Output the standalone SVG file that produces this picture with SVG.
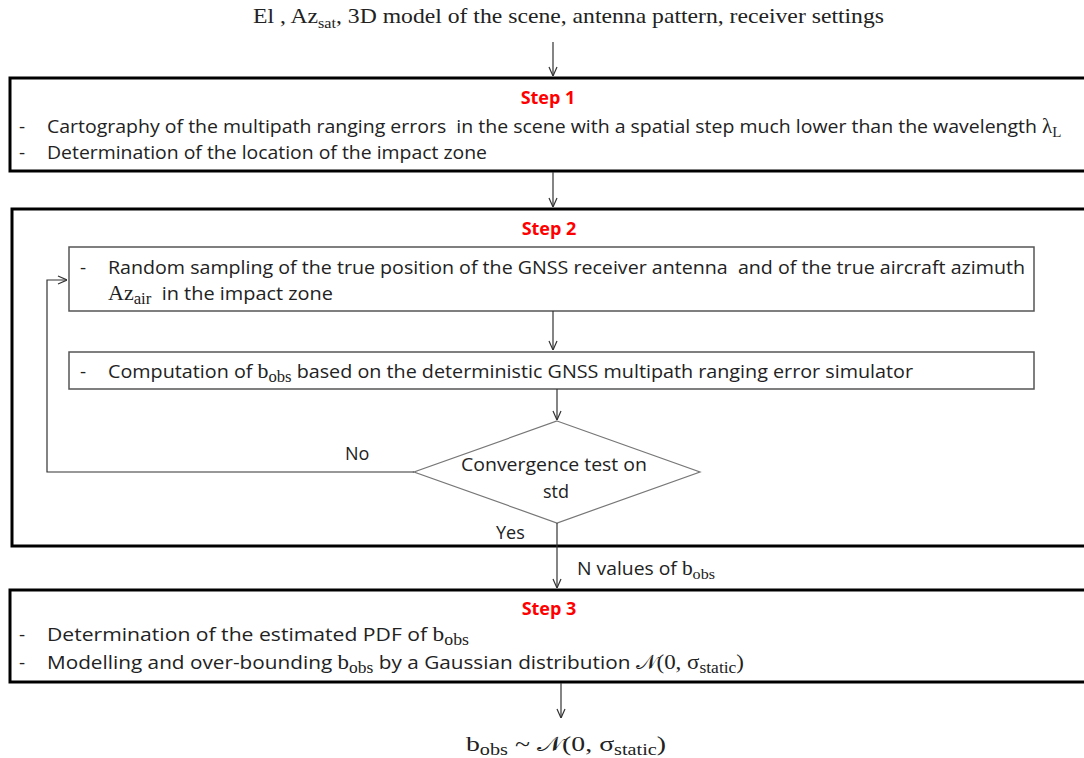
<svg xmlns="http://www.w3.org/2000/svg" width="1084" height="758" viewBox="0 0 1084 758">
<defs>
<style>
.outer{fill:#fff;stroke:#000;stroke-width:3}
.inner{fill:#fff;stroke:#555;stroke-width:1.5}
.dia{fill:#fff;stroke:#777;stroke-width:1.2}
.con{fill:none;stroke:#333;stroke-width:1.2}
.sans{font-family:"Open Sans","Liberation Sans",sans-serif;fill:#222;white-space:pre}
.serif{font-family:"Liberation Serif","DejaVu Serif",serif;fill:#222;white-space:pre}
.step{font-family:"Open Sans","Liberation Sans",sans-serif;font-weight:bold;fill:#ff0000;font-size:18px}
.math{font-family:"DejaVu Serif","Liberation Serif",serif}
.sv{font-family:"Liberation Serif","DejaVu Serif",serif}
</style>
<marker id="arr" viewBox="0 0 10 10" refX="10" refY="5" markerWidth="10" markerHeight="10" markerUnits="userSpaceOnUse" orient="auto">
<path d="M1,1 L10,5 L1,9" fill="none" stroke="#333" stroke-width="1.2"/>
</marker>
</defs>
<rect width="1084" height="758" fill="#fff"/>

<g id="input">
<text class="serif" x="253" y="23" font-size="22" textLength="631" lengthAdjust="spacingAndGlyphs">El , Az<tspan font-size="15" dy="5">sat</tspan><tspan dy="-5">, 3D model of the scene, antenna pattern, receiver settings</tspan></text>
</g>

<g id="step1">
<rect class="outer" x="10" y="78" width="1090" height="93"/>
<text class="step" x="548" y="104" text-anchor="middle">Step 1</text>
<text class="sans" x="19" y="133" font-size="19">-</text>
<text class="sans" x="47" y="133" font-size="19" textLength="990" lengthAdjust="spacingAndGlyphs">Cartography of the multipath ranging errors  in the scene with a spatial step much lower than the wavelength</text>
<text class="serif" x="1042" y="133" font-size="21">λ<tspan font-size="15" dy="4">L</tspan></text>
<text class="sans" x="19" y="159" font-size="19">-</text>
<text class="sans" x="47" y="159" font-size="19" textLength="440" lengthAdjust="spacingAndGlyphs">Determination of the location of the impact zone</text>
</g>

<g id="step2">
<rect class="outer" x="12" y="209" width="1090" height="337"/>
<text class="step" x="549" y="235" text-anchor="middle">Step 2</text>
</g>

<g id="sampling">
<rect class="inner" x="69" y="247" width="965" height="64"/>
<text class="sans" x="80" y="274" font-size="19">-</text>
<text class="sans" x="108" y="274" font-size="19" textLength="917" lengthAdjust="spacingAndGlyphs">Random sampling of the true position of the GNSS receiver antenna  and of the true aircraft azimuth</text>
<text class="sans" x="108" y="300" font-size="19" textLength="225" lengthAdjust="spacingAndGlyphs"><tspan class="sv" font-size="21">Az</tspan><tspan class="sv" font-size="16" dy="4">air</tspan><tspan dy="-4">  in the impact zone</tspan></text>
</g>

<g id="computation">
<rect class="inner" x="69" y="352" width="965" height="37"/>
<text class="sans" x="80" y="378" font-size="19">-</text>
<text class="sans" x="108" y="378" font-size="19" textLength="805" lengthAdjust="spacingAndGlyphs">Computation of <tspan class="sv" font-size="21">b</tspan><tspan class="sv" font-size="16" dy="4">obs</tspan><tspan dy="-4"> based on the deterministic GNSS multipath ranging error simulator</tspan></text>
</g>

<g id="convergence">
<polygon class="dia" points="557,421 700,472 557,523 414,472"/>
<text class="sans" x="554" y="471" font-size="18" text-anchor="middle" textLength="186" lengthAdjust="spacingAndGlyphs">Convergence test on</text>
<text class="sans" x="556" y="498" font-size="18" text-anchor="middle">std</text>
</g>

<g id="step3">
<rect class="outer" x="10" y="590" width="1090" height="92"/>
<text class="step" x="549" y="615" text-anchor="middle">Step 3</text>
<text class="sans" x="19" y="641" font-size="19">-</text>
<text class="sans" x="47" y="641" font-size="19" textLength="422" lengthAdjust="spacingAndGlyphs">Determination of the estimated PDF of <tspan class="sv" font-size="21">b</tspan><tspan class="sv" font-size="16" dy="4">obs</tspan></text>
<text class="sans" x="19" y="669" font-size="19">-</text>
<text class="sans" x="47" y="669" font-size="19" textLength="697" lengthAdjust="spacingAndGlyphs">Modelling and over-bounding <tspan class="sv" font-size="21">b</tspan><tspan class="sv" font-size="16" dy="4">obs</tspan><tspan dy="-4"> by a Gaussian distribution </tspan><tspan class="math" font-size="20">𝒩</tspan><tspan class="sv" font-size="21">(0, σ</tspan><tspan class="sv" font-size="16" dy="4">static</tspan><tspan class="sv" font-size="21" dy="-4">)</tspan></text>
</g>

<g id="output">
<text class="serif" x="466" y="751" font-size="22" textLength="200" lengthAdjust="spacingAndGlyphs">b<tspan font-size="16" dy="4">obs</tspan><tspan dy="-4"> ~ </tspan><tspan class="math" font-size="21">𝒩</tspan>(0, σ<tspan font-size="16" dy="4">static</tspan><tspan dy="-4">)</tspan></text>
</g>

<g id="connectors">
<line class="con" x1="553" y1="42" x2="553" y2="76" marker-end="url(#arr)"/>
<line class="con" x1="553" y1="172" x2="553" y2="207" marker-end="url(#arr)"/>
<line class="con" x1="553" y1="311" x2="553" y2="350" marker-end="url(#arr)"/>
<line class="con" x1="557" y1="389" x2="557" y2="420" marker-end="url(#arr)"/>
<polyline class="con" points="414,472 47,472 47,280 67,280" marker-end="url(#arr)"/>
<line class="con" x1="557" y1="523" x2="557" y2="588" marker-end="url(#arr)"/>
<line class="con" x1="561" y1="683" x2="561" y2="718" marker-end="url(#arr)"/>
<text class="sans" x="345" y="460" font-size="18">No</text>
<text class="sans" x="496" y="539" font-size="18">Yes</text>
<text class="sans" x="577" y="575" font-size="18" textLength="138" lengthAdjust="spacingAndGlyphs">N values of <tspan class="sv" font-size="20">b</tspan><tspan class="sv" font-size="15" dy="4">obs</tspan></text>
</g>
</svg>
